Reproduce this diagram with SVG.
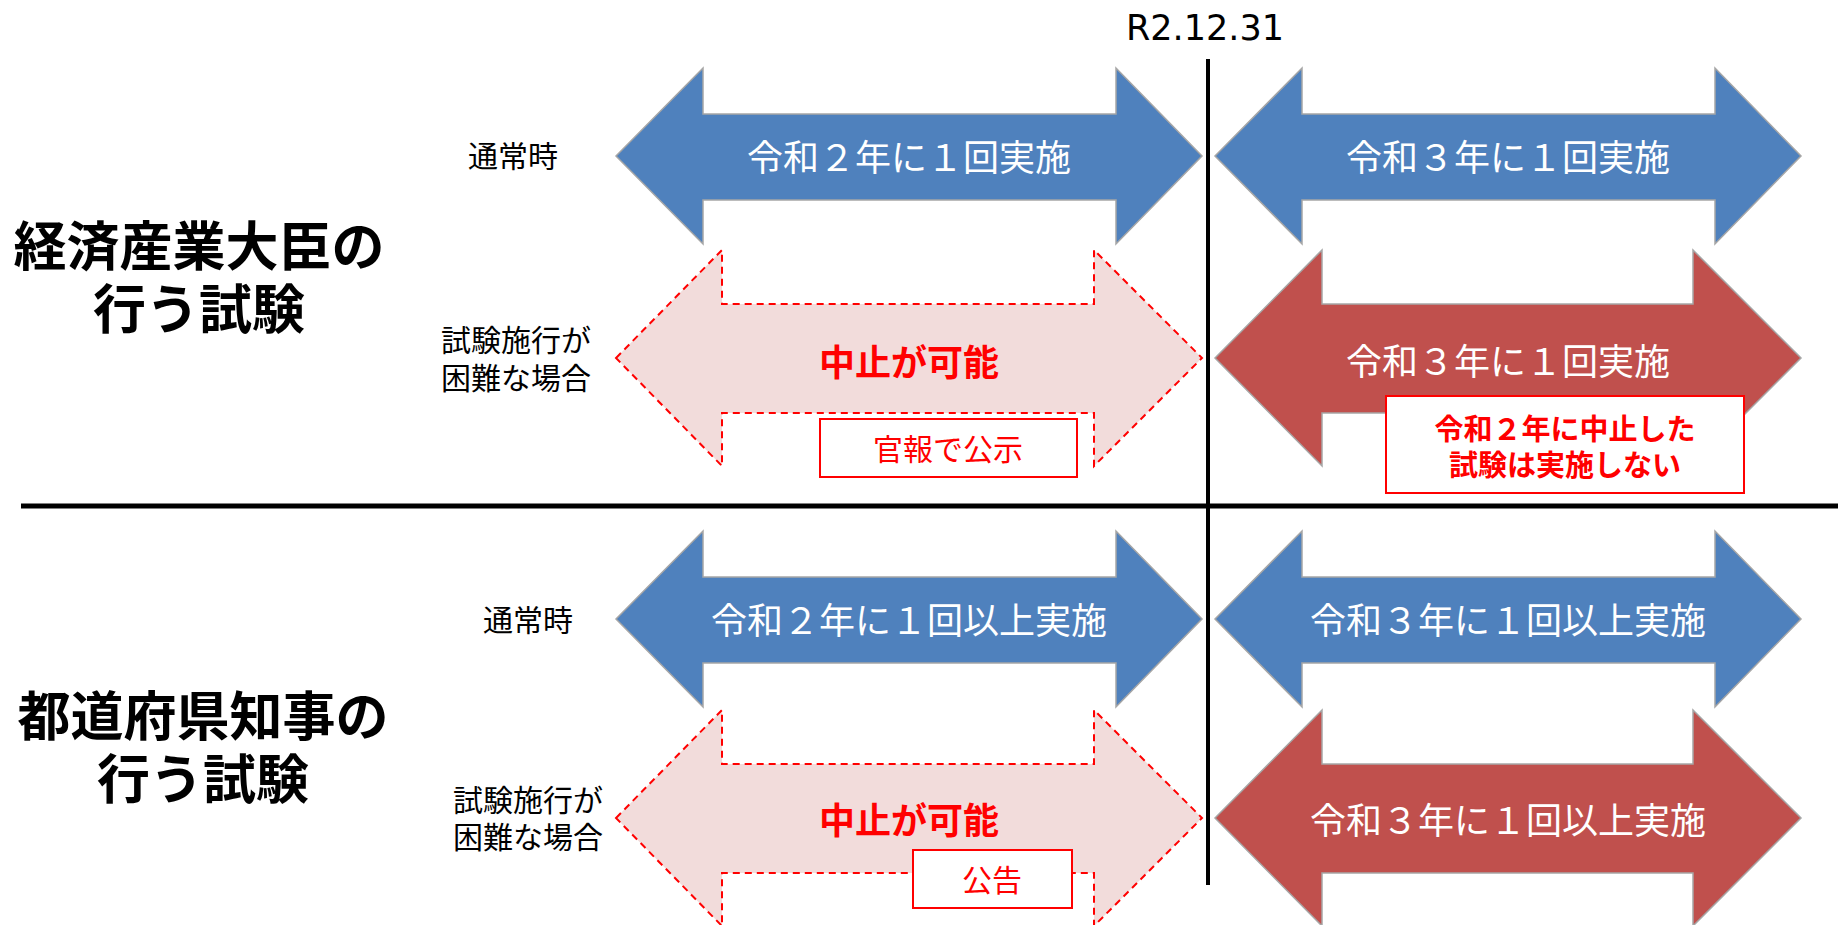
<svg xmlns="http://www.w3.org/2000/svg" width="1838" height="925" viewBox="0 0 1838 925">
<style>
.blue{fill:#4F81BD;stroke:#A6A6A6;stroke-width:1.5}
.red{fill:#C0504D;stroke:#A6A6A6;stroke-width:1.5}
.pink{fill:#F2DCDB;stroke:#FF0000;stroke-width:2;stroke-dasharray:7 5}
.box{fill:#FFFFFF;stroke:#FF0000;stroke-width:2}
.jp{font-family:"Liberation Sans","Noto Sans CJK JP","Noto Sans CJK SC",sans-serif}
.at{font-size:36px;fill:#FFFFFF;text-anchor:middle}
.lbl{font-size:30px;fill:#000000;text-anchor:middle}
.ttl{font-size:53px;font-weight:700;fill:#000000;text-anchor:middle}
.stop{font-size:36px;font-weight:700;fill:#FF0000;text-anchor:middle}
.bt{font-size:30px;fill:#FF0000;text-anchor:middle}
.btb{font-size:29px;font-weight:700;fill:#FF0000;text-anchor:middle}
</style>
<rect width="1838" height="925" fill="#FFFFFF"/>
<g id="connectors">
<line x1="1208" y1="59" x2="1208" y2="885" stroke="#000" stroke-width="4"/>
<line x1="21" y1="506" x2="1838" y2="506" stroke="#000" stroke-width="5"/>
</g>
<text x="1205" y="40" font-family="DejaVu Sans, sans-serif" font-size="35" text-anchor="middle" fill="#000">R2.12.31</text>
<g id="title1" class="jp">
<text class="ttl" x="199" y="266">経済産業大臣の<tspan x="199" dy="63">行う試験</tspan></text>
</g>
<g id="title2" class="jp">
<text class="ttl" x="203" y="736">都道府県知事の<tspan x="203" dy="63">行う試験</tspan></text>
</g>
<g id="label1" class="jp"><text class="lbl" x="513" y="167">通常時</text></g>
<g id="label2" class="jp"><text class="lbl" x="516" y="351">試験施行が<tspan x="516" dy="38">困難な場合</tspan></text></g>
<g id="label3" class="jp"><text class="lbl" x="528" y="631">通常時</text></g>
<g id="label4" class="jp"><text class="lbl" x="528" y="811">試験施行が<tspan x="528" dy="37">困難な場合</tspan></text></g>
<g id="a1l" class="jp">
<path class="blue" d="M616,156 L703,68 L703,114 L1116,114 L1116,68 L1202,156 L1116,244 L1116,200 L703,200 L703,244 Z"/>
<text class="at" x="909" y="171">令和２年に１回実施</text>
</g>
<g id="a1r" class="jp">
<path class="blue" d="M1215,156 L1302,68 L1302,114 L1715,114 L1715,68 L1801,156 L1715,244 L1715,200 L1302,200 L1302,244 Z"/>
<text class="at" x="1508" y="171">令和３年に１回実施</text>
</g>
<g id="a2l" class="jp">
<path class="pink" d="M616,358 L722,250 L722,304 L1094,304 L1094,250 L1202,358 L1094,466 L1094,413 L722,413 L722,466 Z"/>
<text class="stop" x="909" y="376">中止が可能</text>
</g>
<g id="box1" class="jp">
<rect class="box" x="820" y="419" width="257" height="58"/>
<text class="bt" x="948" y="460">官報で公示</text>
</g>
<g id="a2r" class="jp">
<path class="red" d="M1215,358 L1322,250 L1322,304 L1693,304 L1693,250 L1801,358 L1693,466 L1693,413 L1322,413 L1322,466 Z"/>
<text class="at" x="1508" y="375">令和３年に１回実施</text>
</g>
<g id="box2" class="jp">
<rect class="box" x="1386" y="396" width="358" height="97"/>
<text class="btb" x="1565" y="440">令和２年に中止した<tspan x="1565" dy="36">試験は実施しない</tspan></text>
</g>
<g id="a3l" class="jp">
<path class="blue" d="M616,619 L703,531 L703,577 L1116,577 L1116,531 L1202,619 L1116,707 L1116,663 L703,663 L703,707 Z"/>
<text class="at" x="909" y="634">令和２年に１回以上実施</text>
</g>
<g id="a3r" class="jp">
<path class="blue" d="M1215,619 L1302,531 L1302,577 L1715,577 L1715,531 L1801,619 L1715,707 L1715,663 L1302,663 L1302,707 Z"/>
<text class="at" x="1508" y="634">令和３年に１回以上実施</text>
</g>
<g id="a4l" class="jp">
<path class="pink" d="M616,818 L722,710 L722,764 L1094,764 L1094,710 L1202,818 L1094,926 L1094,873 L722,873 L722,926 Z"/>
<text class="stop" x="909" y="834">中止が可能</text>
</g>
<g id="box3" class="jp">
<rect class="box" x="913" y="850" width="159" height="58"/>
<text class="bt" x="992" y="891">公告</text>
</g>
<g id="a4r" class="jp">
<path class="red" d="M1215,818 L1322,710 L1322,764 L1693,764 L1693,710 L1801,818 L1693,926 L1693,873 L1322,873 L1322,926 Z"/>
<text class="at" x="1508" y="834">令和３年に１回以上実施</text>
</g>
</svg>
